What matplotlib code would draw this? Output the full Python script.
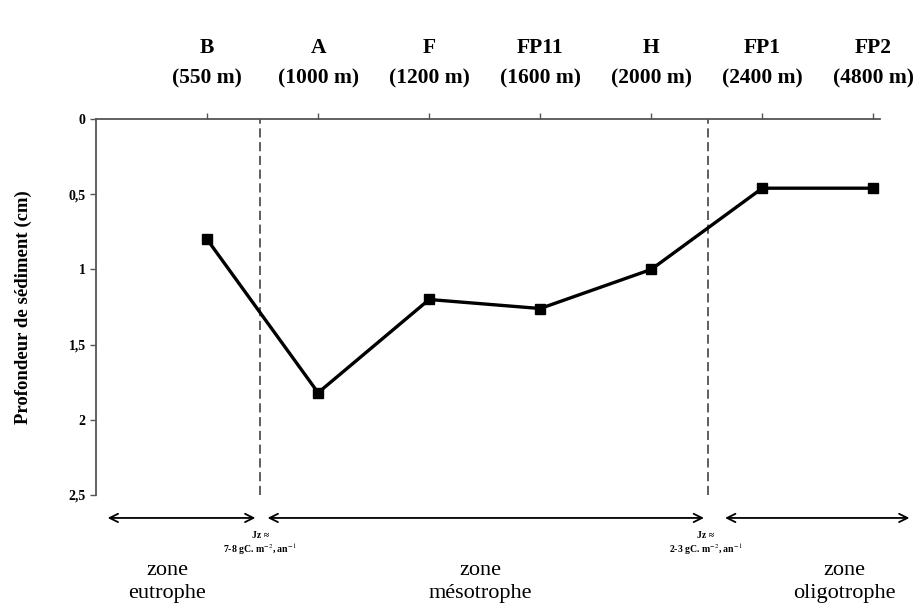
import matplotlib
matplotlib.use("Agg")
import matplotlib.pyplot as plt
import matplotlib.transforms as mtransforms

plt.rcParams['font.family'] = ['Liberation Serif', 'DejaVu Serif']
plt.rcParams['mathtext.fontset'] = 'stix'

stations = ["B", "A", "F", "FP11", "H", "FP1", "FP2"]
depths_m = ["(550 m)", "(1000 m)", "(1200 m)", "(1600 m)", "(2000 m)", "(2400 m)", "(4800 m)"]
sediment_depth = [0.80, 1.82, 1.20, 1.26, 1.00, 0.46, 0.46]
y_ticks = [0, 0.5, 1, 1.5, 2, 2.5]
y_tick_labels = ["0", "0,5", "1", "1,5", "2", "2,5"]
zone_names = ["zone\neutrophe", "zone\nmésotrophe", "zone\noligotrophe"]
flux_labels = ["Jz ≈\n7-8 gC. m$^{-2}$, an$^{-1}$", "Jz ≈\n2-3 gC. m$^{-2}$, an$^{-1}$"]

fig = plt.figure(figsize=(9.18, 6.10), dpi=100)
ax = fig.add_axes([0.1046, 0.1885, 0.854, 0.6164])

x = list(range(1, len(stations) + 1))
ax.plot(x, sediment_depth, color='black', lw=2.4, marker='s', ms=6.5,
        markerfacecolor='black', markeredgecolor='black', clip_on=False, zorder=3)

ax.set_xlim(0, 7.06)
ax.set_ylim(2.5, 0)
ax.set_yticks(y_ticks)
ax.set_yticklabels(y_tick_labels, fontsize=10, fontweight='bold')
ax.xaxis.tick_top()
ax.set_xticks(x)
ax.set_xticklabels([])
ax.tick_params(axis='x', direction='out', length=4, color='#555555', width=1)
ax.tick_params(axis='y', direction='out', length=4, color='#555555', width=1)
for s in ['right', 'bottom']:
    ax.spines[s].set_visible(False)
for s in ['left', 'top']:
    ax.spines[s].set_color('#555555')
    ax.spines[s].set_linewidth(1.3)

ax.set_ylabel("Profondeur de sédiment (cm)", fontsize=13.5, fontweight='bold', labelpad=26)

# dashed boundaries
for xb in [1.48, 5.51]:
    ax.axvline(xb, color='#333333', ls=(0, (6, 3)), lw=1.1)

trans = mtransforms.blended_transform_factory(ax.transData, ax.transAxes)

# top station labels
for xi, st, dm in zip(x, stations, depths_m):
    ax.text(xi, 1.19, st, transform=trans, ha='center', va='center',
            fontsize=15.5, fontweight='bold', clip_on=False)
    ax.text(xi, 1.107, dm, transform=trans, ha='center', va='center',
            fontsize=15.5, fontweight='bold', clip_on=False)

# arrows
arrow_spans = [(0.08, 1.46), (1.52, 5.50), (5.64, 7.35)]
for x0, x1 in arrow_spans:
    ax.annotate("", xy=(x1, -0.061), xytext=(x0, -0.061), xycoords=trans, textcoords=trans,
                arrowprops=dict(arrowstyle="<->,head_length=0.6,head_width=0.3", color='black', lw=1.3),
                annotation_clip=False)

# zone labels
zone_x = [0.64, 3.46, 6.74]
for zx, zn in zip(zone_x, zone_names):
    ax.text(zx, -0.232, zn, transform=trans, ha='center', va='center',
            fontsize=16, linespacing=1.25, clip_on=False)

flux_x = [1.48, 5.49]
for fx, fl in zip(flux_x, flux_labels):
    ax.text(fx, -0.13, fl, transform=trans, ha='center', va='center',
            fontsize=7, fontweight='bold', linespacing=1.1, clip_on=False)

fig.savefig("out.png", dpi=100)
